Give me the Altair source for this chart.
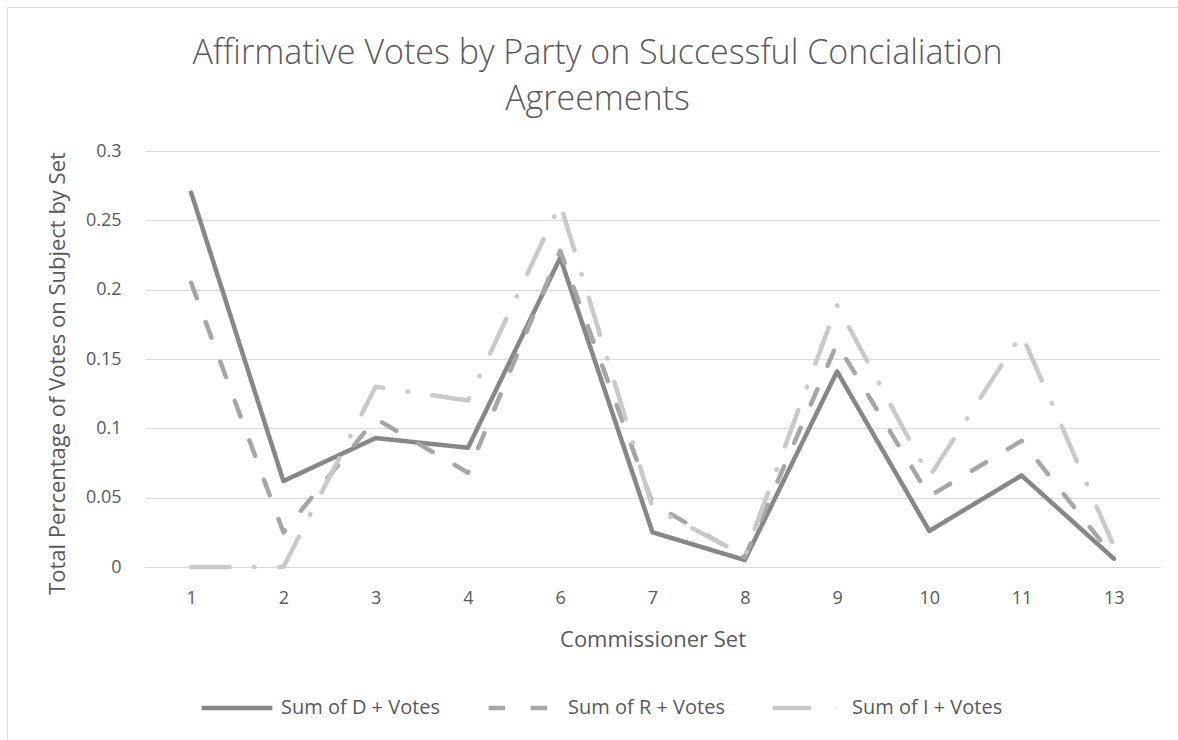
import altair as alt
import pandas as pd

# Commissioner sets on the category axis
sets = ["1", "2", "3", "4", "6", "7", "8", "9", "10", "11", "13"]

# Share of affirmative votes per party
d_votes = [0.270, 0.062, 0.093, 0.086, 0.223, 0.025, 0.005, 0.141, 0.026, 0.066, 0.006]
r_votes = [0.205, 0.025, 0.107, 0.068, 0.228, 0.046, 0.007, 0.161, 0.051, 0.091, 0.007]
i_votes = [0.000, 0.000, 0.130, 0.120, 0.262, 0.043, 0.008, 0.189, 0.065, 0.168, 0.015]

series_names = ["Sum of D + Votes", "Sum of R + Votes", "Sum of I + Votes"]
series_values = [d_votes, r_votes, i_votes]
series_colors = ["#878787", "#a6a6a6", "#c9c9c9"]
series_dashes = [[1, 0], [16.5, 25.5], [38.5, 24.5, 0.5, 24.5]]

rows = []
for order, (name, vals) in enumerate(zip(series_names, series_values)):
    for s, v in zip(sets, vals):
        rows.append({"set": s, "series": name, "value": v, "order": order})
df = pd.DataFrame(rows)

FONT = "Open Sans"
TEXT = "#595959"
GRID = "#d9d9d9"

W, H = 1015, 416
LEFT, TOP = 145, 151

legend_style = dict(
    title=None,
    orient="none",
    direction="horizontal",
    legendX=54,
    legendY=519,
    symbolType="stroke",
    symbolSize=5000,
    symbolStrokeWidth=4.5,
    labelFont=FONT,
    labelFontSize=20,
    labelColor=TEXT,
    labelOffset=6,
    columnPadding=38,
)

lines = alt.Chart(df).mark_line(
    strokeWidth=4.5, strokeCap="round", strokeJoin="round"
).encode(
    x=alt.X(
        "set:O",
        sort=sets,
        scale=alt.Scale(padding=0.5),
        axis=alt.Axis(
            title="Commissioner Set",
            labelAngle=0,
            labelFont=FONT,
            labelFontSize=18,
            labelColor=TEXT,
            labelPadding=22,
            ticks=False,
            domainColor=GRID,
            domainWidth=1,
            titleFont=FONT,
            titleFontSize=22,
            titleFontWeight="normal",
            titleColor=TEXT,
            titleY=72,
            titleBaseline="middle",
        ),
    ),
    y=alt.Y(
        "value:Q",
        scale=alt.Scale(domain=[0, 0.3], nice=False),
        axis=alt.Axis(
            title="Total Percentage of Votes on Subject by Set",
            values=[0, 0.05, 0.1, 0.15, 0.2, 0.25, 0.3],
            format="~g",
            labelFont=FONT,
            labelFontSize=18,
            labelColor=TEXT,
            labelPadding=24,
            ticks=False,
            domain=False,
            gridColor=GRID,
            gridWidth=1,
            titleFont=FONT,
            titleFontSize=22,
            titleFontWeight="normal",
            titleColor=TEXT,
            titleX=-88,
            titleY=H / 2 + 14,
            titleAngle=-90,
            titleAlign="center",
            titleBaseline="middle",
        ),
    ),
    color=alt.Color(
        "series:N",
        scale=alt.Scale(domain=series_names, range=series_colors),
        legend=alt.Legend(**legend_style),
    ),
    strokeDash=alt.StrokeDash(
        "series:N",
        scale=alt.Scale(domain=series_names, range=series_dashes),
        legend=alt.Legend(**legend_style),
    ),
    order=alt.Order("order:Q"),
)

# thin frame around the whole chart area
frame = alt.Chart(alt.Data(values=[{}])).mark_rect(
    fill="transparent", stroke=GRID, strokeWidth=1
).encode(
    x=alt.value(7.5 - LEFT),
    x2=alt.value(1190 - LEFT),
    y=alt.value(7.5 - TOP),
    y2=alt.value(760 - TOP),
)

chart = alt.layer(frame, lines).properties(
    width=W,
    height=H,
    padding={"left": LEFT, "top": TOP, "right": 1178 - LEFT - W, "bottom": 740 - TOP - H},
    autosize=alt.AutoSizeParams(type="none"),
    background="white",
    title=alt.TitleParams(
        text=["Affirmative Votes by Party on Successful Concialiation", "Agreements"],
        frame="group",
        font=FONT,
        fontSize=34,
        fontWeight=300,
        color=TEXT,
        anchor="middle",
        dx=-55,
        offset=-110,
        lineHeight=46,
    ),
).configure_view(stroke=None)

chart.save("out.html", embed_options={"renderer": "svg", "actions": False})
